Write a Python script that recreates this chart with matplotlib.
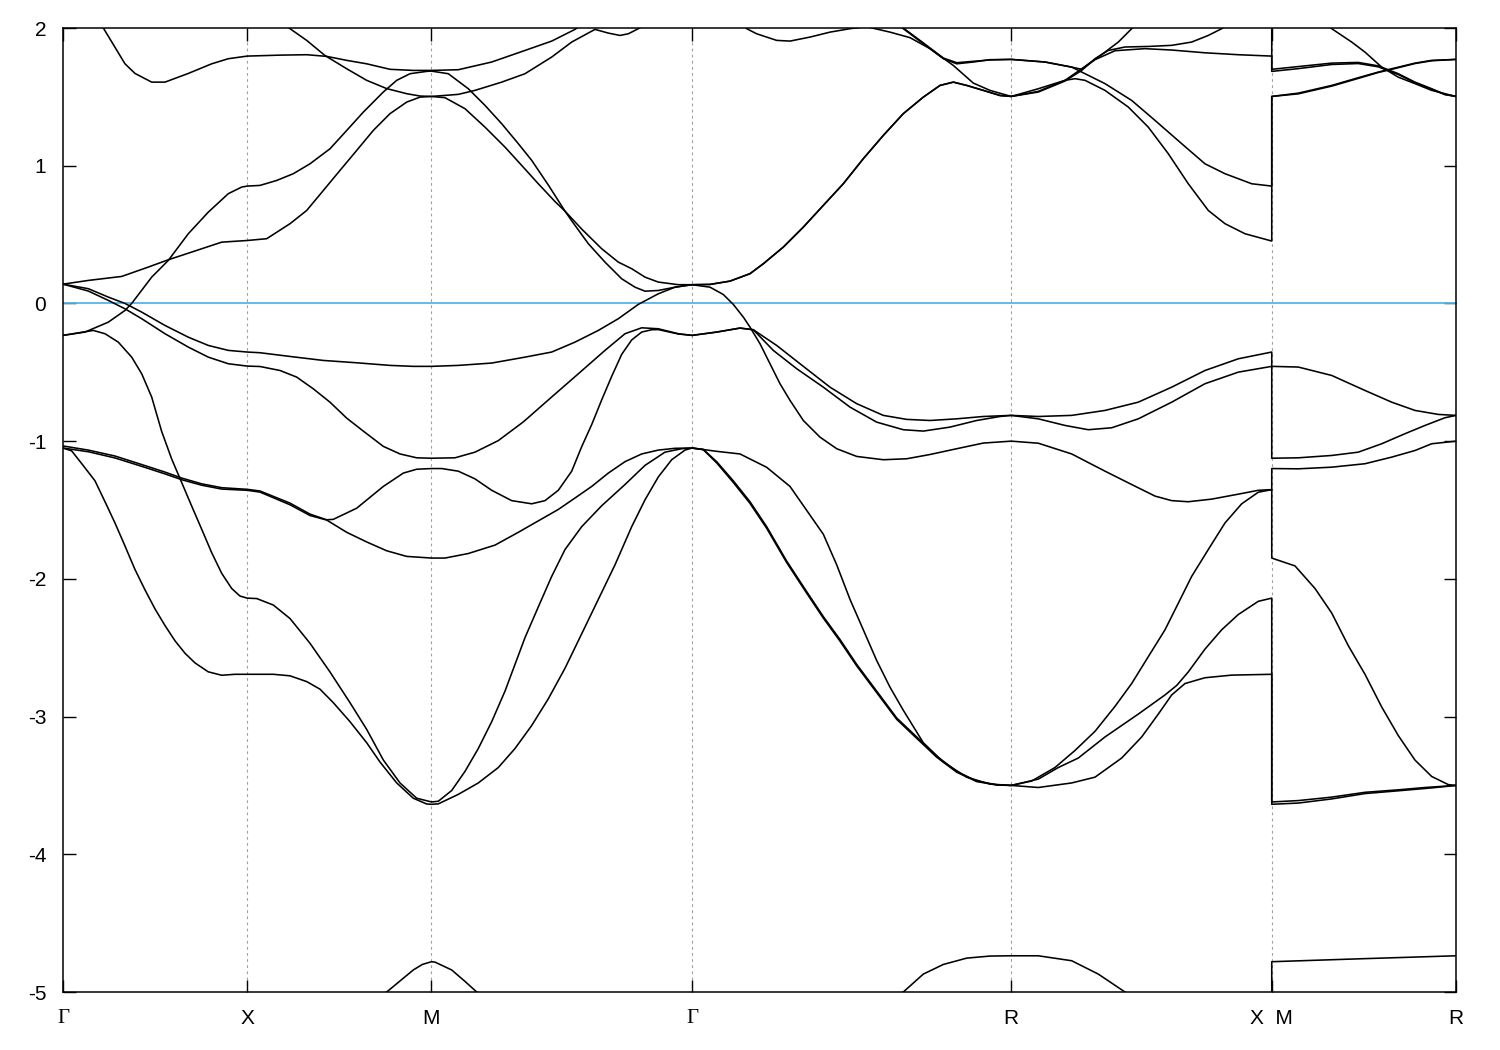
import matplotlib
matplotlib.use("Agg")
import matplotlib.pyplot as plt

# k-path: distance along Γ-X-M-Γ-R-X|M-R (2π/a units)
path_ticks = [0.0, 0.5, 1.0, 1.7071, 2.5731, 3.2802, 3.7802]
path_labels = ["Γ", "X", "M", "Γ", "R", "X  M", "R"]
energy_ticks = [-5, -4, -3, -2, -1, 0, 1, 2]

# band pieces (k, E), one list per path segment
# --- Γ-X
gx_b1 = [(0.0, -5.6), (0.5, -5.5)]
gx_h = [(0.0, -1.05), (0.0236, -1.071), (0.0507, -1.163), (0.0868, -1.288), (0.114, -1.44),
        (0.141, -1.594), (0.168, -1.76), (0.195, -1.93), (0.2225, -2.08), (0.25, -2.22),
        (0.277, -2.34), (0.304, -2.45), (0.331, -2.54), (0.358, -2.61), (0.394, -2.675),
        (0.4307, -2.70), (0.467, -2.693), (0.5, -2.693)]
gx_e = [(0.0, -0.232), (0.0822, -0.196), (0.114, -0.22), (0.15, -0.281), (0.1864, -0.39),
        (0.2136, -0.511), (0.2407, -0.68), (0.2678, -0.93), (0.295, -1.13), (0.322, -1.30),
        (0.349, -1.47), (0.3764, -1.64), (0.4035, -1.81), (0.4307, -1.96), (0.4578, -2.07),
        (0.4803, -2.125), (0.5, -2.14)]
gx_g = [(0.0, -1.05), (0.0687, -1.077), (0.141, -1.122), (0.2136, -1.183), (0.277, -1.238),
        (0.322, -1.28), (0.3764, -1.32), (0.4307, -1.348), (0.5, -1.357)]
gx_f = [(0.0, -1.035), (0.0687, -1.065), (0.141, -1.108), (0.2136, -1.17), (0.277, -1.225),
        (0.322, -1.268), (0.3764, -1.31), (0.4307, -1.338), (0.5, -1.35)]
gx_c = [(0.0, 0.14), (0.0687, 0.107), (0.1229, 0.046), (0.1682, 0.0), (0.2136, -0.063),
        (0.2768, -0.16), (0.34, -0.245), (0.3943, -0.305), (0.4486, -0.341), (0.5, -0.353)]
gx_d = [(0.0, 0.14), (0.0687, 0.09), (0.1229, 0.022), (0.1682, -0.039), (0.2136, -0.111),
        (0.2768, -0.22), (0.34, -0.317), (0.3943, -0.39), (0.4486, -0.438), (0.5, -0.455)]
gx_a = [(0.0, 0.14), (0.0687, 0.167), (0.1593, 0.196), (0.2315, 0.264), (0.2857, 0.317),
        (0.3221, 0.349), (0.3764, 0.397), (0.4307, 0.445), (0.5, 0.457)]
gx_b = [(0.0, -0.232), (0.0597, -0.208), (0.1229, -0.136), (0.1682, -0.051), (0.1864, 0.0),
        (0.2407, 0.191), (0.2857, 0.312), (0.34, 0.506), (0.3943, 0.663), (0.4486, 0.797),
        (0.4849, 0.845), (0.5, 0.852)]
gx_u1 = [(0.0, 2.3), (0.0733, 2.15), (0.1094, 2.0), (0.1411, 1.86), (0.1682, 1.74),
         (0.1954, 1.67), (0.2407, 1.607), (0.2768, 1.607), (0.34, 1.67), (0.4035, 1.74),
         (0.4486, 1.777), (0.5, 1.796)]
gx_11 = [(0.0, 2.6), (0.5, 2.2)]
gx_12 = [(0.0, 2.6), (0.5, 2.6)]

# --- X-M
xm_b1 = [(0.5, -5.5), (0.8784, -5.0), (0.9506, -4.84), (0.975, -4.80), (1.0, -4.78)]
xm_h = [(0.5, -2.693), (0.5707, -2.693), (0.616, -2.704), (0.6613, -2.746), (0.6974, -2.801),
        (0.7335, -2.899), (0.7788, -3.037), (0.8241, -3.19), (0.8602, -3.33), (0.9056, -3.482),
        (0.9506, -3.593), (0.987, -3.635), (1.0, -3.637)]
xm_e = [(0.5, -2.14), (0.5256, -2.143), (0.5707, -2.19), (0.616, -2.288), (0.6703, -2.468),
        (0.7245, -2.676), (0.7788, -2.899), (0.8241, -3.093), (0.8692, -3.315), (0.9145, -3.482),
        (0.9598, -3.593), (1.0, -3.62)]
xm_g = [(0.5, -1.357), (0.5346, -1.37), (0.616, -1.462), (0.6703, -1.54), (0.7156, -1.573),
        (0.7699, -1.662), (0.8241, -1.732), (0.8784, -1.796), (0.9327, -1.837), (1.0, -1.849)]
xm_f = [(0.5, -1.35), (0.5346, -1.362), (0.616, -1.45), (0.6703, -1.53), (0.7156, -1.571),
        (0.7335, -1.568), (0.797, -1.487), (0.8692, -1.329), (0.9235, -1.232), (0.9598, -1.204),
        (1.0, -1.199)]
xm_c = [(0.5, -0.353), (0.5346, -0.358), (0.616, -0.385), (0.7064, -0.414), (0.797, -0.431),
        (0.8874, -0.45), (0.9506, -0.457), (1.0, -0.457)]
xm_d = [(0.5, -0.455), (0.5346, -0.458), (0.5889, -0.487), (0.6342, -0.535), (0.6792, -0.62),
        (0.7245, -0.717), (0.7699, -0.833), (0.8149, -0.927), (0.8692, -1.038), (0.9145, -1.093),
        (0.9598, -1.121), (1.0, -1.124)]
xm_a = [(0.5, 0.457), (0.5528, 0.47), (0.616, 0.579), (0.6613, 0.675), (0.7064, 0.82),
        (0.7517, 0.966), (0.797, 1.111), (0.842, 1.256), (0.8874, 1.378), (0.9327, 1.462),
        (0.9688, 1.498), (1.0, 1.503)]
xm_9 = [(0.5, 0.852), (0.5346, 0.857), (0.58, 0.893), (0.625, 0.942), (0.6703, 1.014),
        (0.7245, 1.123), (0.7699, 1.256), (0.8149, 1.389), (0.8692, 1.535), (0.9056, 1.62),
        (0.9416, 1.668), (0.987, 1.685), (1.0, 1.687)]
xm_u1 = [(0.5, 1.796), (0.5889, 1.803), (0.6613, 1.806), (0.7156, 1.794), (0.7699, 1.765),
         (0.8241, 1.74), (0.8874, 1.70), (0.9506, 1.692), (1.0, 1.692)]
xm_u2 = [(0.5, 2.2), (0.616, 1.995), (0.6613, 1.91), (0.711, 1.80), (0.7699, 1.704),
         (0.8241, 1.62), (0.8784, 1.56), (0.9327, 1.523), (0.9688, 1.506), (1.0, 1.503)]
xm_12 = [(0.5, 2.6), (1.0, 2.6)]

# --- M-Γ
mg_b1 = [(1.0, -4.78), (1.0095, -4.783), (1.0548, -4.84), (1.0909, -4.923), (1.1227, -5.0),
         (1.7071, -5.6)]
mg_h = [(1.0, -3.637), (1.0184, -3.634), (1.0727, -3.565), (1.127, -3.482), (1.1813, -3.37),
        (1.2266, -3.232), (1.2719, -3.065), (1.317, -2.871), (1.3623, -2.649), (1.4076, -2.399),
        (1.4527, -2.149), (1.498, -1.898), (1.5433, -1.621), (1.5794, -1.426), (1.6155, -1.26),
        (1.6518, -1.135), (1.6879, -1.065), (1.7071, -1.05)]
mg_e = [(1.0, -3.62), (1.0184, -3.615), (1.0548, -3.537), (1.0909, -3.398), (1.127, -3.232),
        (1.1634, -3.037), (1.1995, -2.815), (1.2266, -2.621), (1.2537, -2.427), (1.2898, -2.204),
        (1.3262, -1.982), (1.3623, -1.787), (1.4076, -1.621), (1.4619, -1.469), (1.5251, -1.315),
        (1.5794, -1.176), (1.6336, -1.08), (1.6789, -1.055), (1.7071, -1.05)]
mg_g = [(1.0, -1.849), (1.0366, -1.849), (1.0999, -1.816), (1.1723, -1.755), (1.2356, -1.662),
        (1.2898, -1.579), (1.3441, -1.496), (1.3894, -1.413), (1.4347, -1.329), (1.4798, -1.232),
        (1.5251, -1.149), (1.5704, -1.093), (1.6155, -1.065), (1.6608, -1.052), (1.7071, -1.05)]
mg_f = [(1.0, -1.199), (1.0277, -1.199), (1.0727, -1.218), (1.118, -1.274), (1.1634, -1.357),
        (1.2176, -1.432), (1.2719, -1.455), (1.308, -1.432), (1.3441, -1.357), (1.3805, -1.218),
        (1.4076, -1.04), (1.4347, -0.88), (1.4619, -0.70), (1.4889, -0.53), (1.5161, -0.37),
        (1.5433, -0.265), (1.5704, -0.208), (1.5976, -0.191), (1.6155, -0.19), (1.6698, -0.222),
        (1.7071, -0.232)]
mg_d = [(1.0, -1.124), (1.0638, -1.121), (1.118, -1.08), (1.1813, -0.996), (1.2493, -0.86),
        (1.3216, -0.69), (1.3984, -0.511), (1.4708, -0.341), (1.5251, -0.22), (1.5704, -0.177),
        (1.6155, -0.184), (1.6698, -0.22), (1.7071, -0.232)]
mg_c = [(1.0, -0.457), (1.0727, -0.45), (1.1634, -0.433), (1.2537, -0.39), (1.3262, -0.353),
        (1.3894, -0.281), (1.4527, -0.196), (1.507, -0.111), (1.5612, -0.007), (1.6155, 0.07),
        (1.6608, 0.118), (1.7071, 0.136)]
mg_q = [(1.0, 1.503), (1.0366, 1.494), (1.0909, 1.414), (1.1452, 1.28), (1.1995, 1.135),
        (1.2448, 1.002), (1.2898, 0.869), (1.3351, 0.74), (1.3623, 0.67), (1.3805, 0.60),
        (1.4255, 0.434), (1.4708, 0.30), (1.5161, 0.179), (1.5522, 0.118), (1.5794, 0.089),
        (1.6155, 0.094), (1.6608, 0.118), (1.7071, 0.136)]
mg_p = [(1.0, 1.687), (1.0456, 1.668), (1.0999, 1.559), (1.1452, 1.438), (1.1905, 1.305),
        (1.2356, 1.16), (1.2719, 1.039), (1.317, 0.86), (1.3623, 0.67), (1.4076, 0.54),
        (1.4619, 0.397), (1.507, 0.30), (1.5433, 0.252), (1.5794, 0.191), (1.6155, 0.155),
        (1.6698, 0.136), (1.7071, 0.136)]
mg_up1 = [(1.0, 1.692), (1.0727, 1.697), (1.1634, 1.753), (1.2537, 1.837), (1.3262, 1.905),
          (1.3894, 1.99), (1.45, 2.1), (1.7071, 2.3)]
mg_up2 = [(1.0, 1.503), (1.0727, 1.518), (1.118, 1.547), (1.1905, 1.607), (1.2537, 1.668),
          (1.3262, 1.789), (1.3805, 1.898), (1.4437, 1.99), (1.4798, 1.963), (1.5115, 1.946),
          (1.5341, 1.958), (1.5612, 1.995), (1.6, 2.05), (1.7071, 2.15)]
mg_12 = [(1.0, 2.6), (1.7071, 2.6)]

# --- Γ-R
gr_b1 = [(1.7071, -5.6), (2.2803, -5.0), (2.3346, -4.87), (2.3889, -4.80), (2.4524, -4.754),
         (2.5156, -4.739), (2.5731, -4.737)]
gr_l1 = [(1.7071, -1.05), (1.7739, -1.074), (1.8372, -1.093), (1.9096, -1.19), (1.9729, -1.329),
         (2.0271, -1.537), (2.0633, -1.676), (2.0996, -1.898), (2.1357, -2.149), (2.1718, -2.37),
         (2.2081, -2.593), (2.2443, -2.787), (2.2803, -2.954), (2.3346, -3.19), (2.3889, -3.33),
         (2.4524, -3.44), (2.5156, -3.49), (2.5731, -3.5)]
gr_l2 = [(1.7071, -1.05), (1.7376, -1.06), (1.7739, -1.149), (1.819, -1.288), (1.8643, -1.44),
         (1.9096, -1.621), (1.9639, -1.871), (2.0182, -2.093), (2.0633, -2.274), (2.1085, -2.44),
         (2.1539, -2.621), (2.2081, -2.815), (2.2624, -3.01), (2.3167, -3.148), (2.3709, -3.287),
         (2.4253, -3.398), (2.4795, -3.468), (2.5338, -3.495), (2.5731, -3.5)]
gr_l3 = [(1.7071, -1.05), (1.7376, -1.062), (1.7739, -1.158), (1.819, -1.30), (1.8643, -1.452),
         (1.9096, -1.633), (1.9639, -1.882), (2.0182, -2.104), (2.0633, -2.285), (2.1085, -2.452),
         (2.1539, -2.632), (2.2081, -2.826), (2.2624, -3.02), (2.3167, -3.158), (2.3709, -3.295),
         (2.4253, -3.404), (2.4795, -3.472), (2.5338, -3.497), (2.5731, -3.5)]
gr_steep = [(1.7071, 0.136), (1.7558, 0.118), (1.7918, 0.065), (1.819, -0.007), (1.8461, -0.099),
            (1.8643, -0.172), (1.8915, -0.293), (1.9186, -0.438), (1.9457, -0.583),
            (1.9729, -0.704), (2.009, -0.85), (2.0543, -0.971), (2.0996, -1.055), (2.1539, -1.111),
            (2.2261, -1.135), (2.2895, -1.128), (2.3528, -1.097), (2.4253, -1.055),
            (2.4974, -1.014), (2.5731, -1.0)]
gr_m1 = [(1.7071, -0.232), (1.7739, -0.208), (1.8372, -0.179), (1.8733, -0.191), (1.9367, -0.305),
         (2.0, -0.438), (2.0814, -0.608), (2.1539, -0.728), (2.2261, -0.813), (2.2895, -0.842),
         (2.3528, -0.85), (2.4253, -0.838), (2.4974, -0.821), (2.5731, -0.813)]
gr_m2 = [(1.7071, -0.232), (1.7739, -0.208), (1.8372, -0.179), (1.8733, -0.191), (1.9275, -0.341),
         (1.991, -0.474), (2.0633, -0.608), (2.1357, -0.753), (2.2081, -0.862), (2.2803, -0.917),
         (2.3346, -0.927), (2.4071, -0.898), (2.4795, -0.85), (2.5427, -0.821), (2.5731, -0.813)]
gr_rise = [(1.7071, 0.136), (1.7558, 0.138), (1.81, 0.162), (1.8643, 0.216), (1.9004, 0.288),
           (1.9547, 0.409), (2.009, 0.554), (2.0633, 0.712), (2.1175, 0.869), (2.1718, 1.051),
           (2.2261, 1.22), (2.2803, 1.378), (2.3346, 1.498), (2.3799, 1.583), (2.4161, 1.607),
           (2.4524, 1.583), (2.4974, 1.547), (2.5427, 1.51), (2.5731, 1.503)]
gr_top1 = [(1.7071, 2.6), (1.8554, 1.995), (1.8825, 1.958), (1.9367, 1.91), (1.9729, 1.905),
           (2.0271, 1.934), (2.0814, 1.97), (2.1357, 1.995), (2.18, 2.01), (2.2443, 1.97),
           (2.2985, 1.93), (2.3528, 1.85), (2.4161, 1.728), (2.4703, 1.60), (2.5156, 1.547),
           (2.5731, 1.503)]
gr_top2 = [(1.7071, 2.3), (2.15, 2.3), (2.2803, 1.995), (2.3346, 1.886), (2.3889, 1.777),
           (2.4253, 1.74), (2.4703, 1.753), (2.5156, 1.77), (2.5731, 1.772)]
gr_top2b = [(1.7071, 2.15), (2.15, 2.3), (2.2803, 2.0), (2.3346, 1.892), (2.3889, 1.782),
            (2.4253, 1.748), (2.4703, 1.758), (2.5156, 1.768), (2.5731, 1.772)]

# --- R-X
rx_b1 = [(2.5731, -4.737), (2.6467, -4.737), (2.7373, -4.773), (2.8095, -4.87), (2.8819, -5.0),
         (3.2802, -5.5)]
rx_3 = [(2.5731, -3.5), (2.6467, -3.515), (2.7373, -3.482), (2.8006, -3.44), (2.873, -3.301),
        (2.9272, -3.148), (2.9723, -2.982), (3.0087, -2.843), (3.0448, -2.76), (3.099, -2.718),
        (3.1715, -2.699), (3.2802, -2.693)]
rx_2 = [(2.5731, -3.5), (2.6467, -3.454), (2.701, -3.37), (2.7552, -3.301), (2.8277, -3.148),
        (2.918, -2.982), (2.9905, -2.843), (3.0222, -2.774), (3.0537, -2.676), (3.099, -2.51),
        (3.1443, -2.37), (3.1894, -2.259), (3.2437, -2.163), (3.2802, -2.14)]
rx_1 = [(2.5731, -3.5), (2.6287, -3.468), (2.692, -3.37), (2.7463, -3.246), (2.8006, -3.107),
        (2.8548, -2.926), (2.9001, -2.76), (2.9452, -2.565), (2.9905, -2.37), (3.0266, -2.177),
        (3.0629, -1.982), (3.108, -1.787), (3.1533, -1.594), (3.1986, -1.455), (3.2437, -1.371),
        (3.2802, -1.352)]
rx_m = [(2.5731, -1.0), (2.6467, -1.015), (2.7373, -1.093), (2.8277, -1.218), (2.9001, -1.315),
        (2.9634, -1.399), (3.0087, -1.432), (3.0537, -1.44), (3.1172, -1.421), (3.1894, -1.385),
        (3.2437, -1.357), (3.2802, -1.352)]
rx_lo = [(2.5731, -0.813), (2.6467, -0.838), (2.7192, -0.886), (2.7824, -0.917), (2.8458, -0.903),
         (2.918, -0.838), (3.0087, -0.717), (3.099, -0.583), (3.1894, -0.499), (3.2802, -0.457)]
rx_up = [(2.5731, -0.813), (2.6467, -0.821), (2.7373, -0.813), (2.8277, -0.777), (2.918, -0.717),
         (3.0087, -0.608), (3.099, -0.487), (3.1894, -0.402), (3.2802, -0.353)]
rx_f = [(2.5731, 1.503), (2.6467, 1.559), (2.7192, 1.62), (2.7463, 1.632), (2.7734, 1.62),
        (2.8277, 1.547), (2.8909, 1.426), (2.9452, 1.28), (2.9995, 1.087), (3.0537, 0.869),
        (3.108, 0.675), (3.1533, 0.579), (3.2076, 0.506), (3.2802, 0.453)]
rx_b = [(2.5731, 1.503), (2.6467, 1.54), (2.7192, 1.62), (2.7645, 1.704), (2.8277, 1.825),
        (2.8638, 1.898), (2.9001, 1.995), (2.95, 2.2), (3.2802, 2.5)]
rx_c = [(2.5731, 1.503), (2.6467, 1.535), (2.7192, 1.615), (2.7645, 1.692), (2.8006, 1.777),
        (2.8366, 1.837), (2.8819, 1.862), (2.9452, 1.866), (3.0087, 1.874), (3.0629, 1.898),
        (3.108, 1.946), (3.1443, 1.995), (3.2, 2.1), (3.2802, 2.2)]
rx_d = [(2.5731, 1.772), (2.6649, 1.753), (2.7373, 1.716), (2.7645, 1.70), (2.8006, 1.77),
        (2.8548, 1.835), (2.9362, 1.85), (3.0087, 1.84), (3.099, 1.82), (3.1894, 1.806),
        (3.2802, 1.796)]
rx_e = [(2.5731, 1.772), (2.6649, 1.753), (2.7373, 1.716), (2.7645, 1.68), (2.8277, 1.596),
        (2.9001, 1.474), (2.9634, 1.329), (3.0358, 1.16), (3.099, 1.014), (3.1533, 0.942),
        (3.2258, 0.869), (3.2802, 0.852)]

# --- M-R (starts again at the same k as X)
mr_b1 = [(3.2802, -4.78), (3.53, -4.758), (3.7802, -4.737)]
mr_h = [(3.2802, -3.637), (3.3523, -3.628), (3.4429, -3.598), (3.5332, -3.559), (3.6236, -3.539),
        (3.7142, -3.518), (3.7802, -3.5)]
mr_e = [(3.2802, -3.62), (3.3523, -3.61), (3.4429, -3.585), (3.5332, -3.55), (3.6236, -3.532),
        (3.6961, -3.515), (3.7802, -3.5)]
mr_g = [(3.2802, -1.849), (3.3433, -1.906), (3.3976, -2.07), (3.4429, -2.248), (3.4879, -2.485),
        (3.5332, -2.693), (3.5785, -2.93), (3.6236, -3.138), (3.6689, -3.316), (3.7142, -3.435),
        (3.7593, -3.494), (3.7802, -3.5)]
mr_f = [(3.2802, -1.199), (3.3523, -1.201), (3.4429, -1.189), (3.5332, -1.164), (3.6057, -1.116),
        (3.6689, -1.068), (3.7142, -1.019), (3.7802, -1.0)]
mr_d = [(3.2802, -1.124), (3.3523, -1.121), (3.4429, -1.104), (3.515, -1.08), (3.5785, -1.019),
        (3.6418, -0.946), (3.6961, -0.886), (3.7504, -0.83), (3.7802, -0.813)]
mr_c = [(3.2802, -0.457), (3.3523, -0.462), (3.4429, -0.523), (3.5332, -0.632), (3.6057, -0.717),
        (3.6689, -0.777), (3.7322, -0.806), (3.7802, -0.813)]
mr_l1 = [(3.2802, 1.503), (3.3523, 1.527), (3.4429, 1.583), (3.515, 1.639), (3.5693, 1.68),
         (3.6057, 1.704), (3.6689, 1.745), (3.7142, 1.765), (3.7802, 1.772)]
mr_l2 = [(3.2802, 1.503), (3.3523, 1.522), (3.4429, 1.578), (3.515, 1.634), (3.5693, 1.677),
         (3.6057, 1.70), (3.6689, 1.742), (3.7142, 1.762), (3.7802, 1.772)]
mr_h1 = [(3.2802, 1.70), (3.3523, 1.72), (3.4429, 1.745), (3.515, 1.75), (3.5693, 1.725),
         (3.6236, 1.668), (3.6689, 1.607), (3.7142, 1.559), (3.7504, 1.518), (3.7802, 1.503)]
mr_h2 = [(3.2802, 1.685), (3.3523, 1.705), (3.4429, 1.735), (3.515, 1.742), (3.5693, 1.718),
         (3.6236, 1.662), (3.6689, 1.603), (3.7142, 1.555), (3.7504, 1.516), (3.7802, 1.503)]
mr_top = [(3.2802, 2.3), (3.3704, 2.15), (3.4429, 1.995), (3.4971, 1.898), (3.5332, 1.825),
          (3.5785, 1.716), (3.6236, 1.643), (3.6689, 1.596), (3.7142, 1.547), (3.7802, 1.503)]

# each band is drawn as one continuous line over the whole path
bands = [
    [gx_b1, xm_b1, mg_b1, gr_b1, rx_b1, mr_b1],
    [gx_h, xm_h, mg_h, gr_l1, rx_3, mr_h],
    [gx_e, xm_e, mg_e, gr_l2, rx_2, mr_e],
    [gx_g, xm_g, mg_g, gr_l3, rx_1, mr_g],
    [gx_c, xm_c, mg_c, gr_steep, rx_m, mr_f],
    [gx_f, xm_f, mg_f, gr_m2, rx_lo, mr_d],
    [gx_d, xm_d, mg_d, gr_m1, rx_up, mr_c],
    [gx_a, xm_a, mg_q, gr_rise, rx_f, mr_l1],
    [gx_b, xm_9, mg_p, gr_rise, rx_b, mr_h1],
    [gx_u1, xm_u1, mg_up1, gr_top2, rx_d, mr_h2],
    [gx_11, xm_u2, mg_up2, gr_top2b, rx_e, mr_l2],
    [gx_12, xm_12, mg_12, gr_top1, rx_c, mr_top],
]


def join(parts):
    pts = [p for part in parts for p in part]
    k, e = zip(*pts)
    return k, e


def main():
    plt.rcParams['font.family'] = ['Liberation Sans', 'DejaVu Sans']
    plt.rcParams['axes.unicode_minus'] = False

    fig = plt.figure(figsize=(15, 10.5), dpi=100)
    ax = fig.add_axes([63 / 1500, 58 / 1050, 1393 / 1500, 964 / 1050])

    for x in path_ticks[1:-1]:
        ax.axvline(x, color='#a0a0a0', lw=0.8, ls=(0, (2.5, 3)), zorder=1)
    ax.axhline(0, color='#56b4e9', lw=1.3, zorder=2)

    for parts in bands:
        k, e = join(parts)
        ax.plot(k, e, color='black', lw=1.15, zorder=3)

    ax.set_xlim(path_ticks[0], path_ticks[-1])
    ax.set_ylim(-5, 2)
    ax.set_xticks(path_ticks)
    ax.set_xticklabels(path_labels)
    ax.set_yticks(energy_ticks)
    for lab in ax.get_xticklabels():
        if lab.get_text() == "Γ":
            lab.set_fontfamily('Liberation Serif')
    ax.tick_params(direction='in', top=True, right=True, length=9, width=1.0,
                   labelsize=15)
    ax.tick_params(axis='x', pad=12)
    ax.tick_params(axis='y', pad=12)
    for sp in ax.spines.values():
        sp.set_linewidth(1.1)

    fig.savefig("out.png", dpi=100)


if __name__ == "__main__":
    main()
